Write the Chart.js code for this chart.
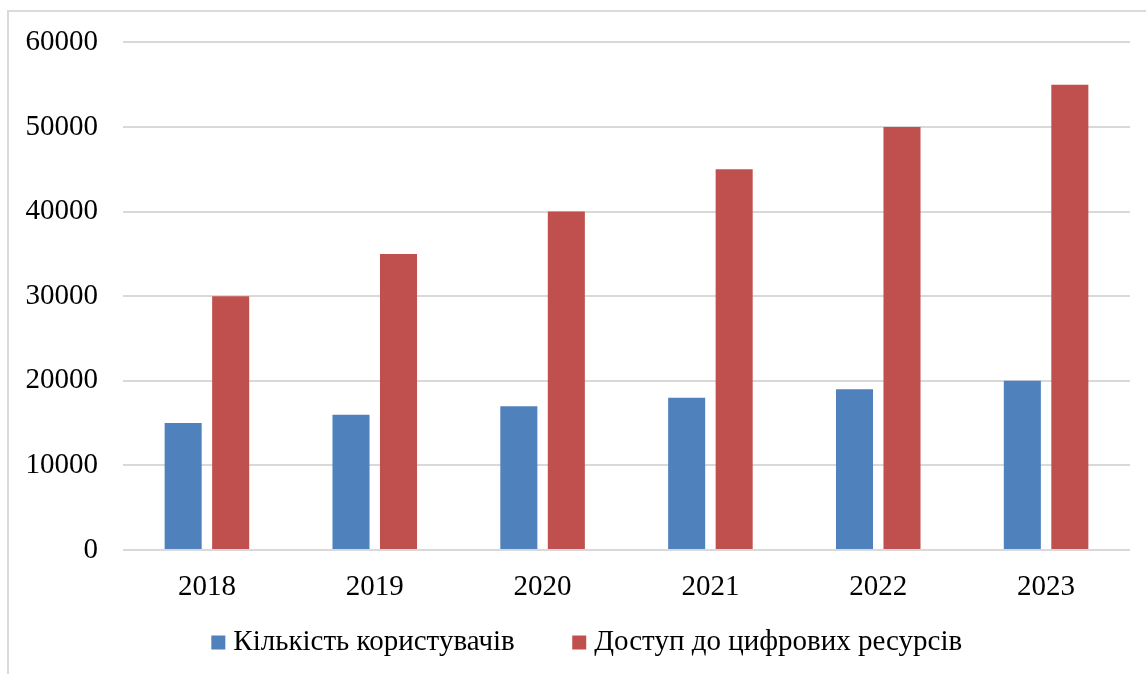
<!DOCTYPE html>
<html>
<head>
<meta charset="utf-8">
<script src="https://cdn.jsdelivr.net/npm/chart.js@4.4.1/dist/chart.umd.min.js"></script>
<style>
  body { margin: 0; background: #fff; }
  #wrap { position: relative; width: 1146px; height: 674px; overflow: hidden; }
  #frame { position: absolute; left: 7px; top: 10px; width: 1200px; height: 700px;
           border-left: 2px solid #dadada; border-top: 2px solid #dadada; }
  canvas { position: absolute; left: 0; top: 0; }
</style>
</head>
<body>
<div id="wrap">
  <div id="frame"></div>
  <canvas id="chart" width="1146" height="674"></canvas>
</div>
<script>
const years = ['2018', '2019', '2020', '2021', '2022', '2023'];
const users = [15000, 16000, 17000, 18000, 19000, 20000];
const access = [30000, 35000, 40000, 45000, 50000, 55000];
const yTicks = [0, 10000, 20000, 30000, 40000, 50000, 60000];

const serif = "'Liberation Serif', 'DejaVu Serif', serif";

// the legend needs wide gaps between items but little height,
// so move it after layout instead of letting padding push it down
const legendShift = {
    id: 'legendShift',
    afterUpdate(chart) {
        const lg = chart.legend;
        lg.left += 21;
        lg.right += 21;
        lg.top -= 46;
        lg.bottom -= 46;
    }
};

const chart = document.querySelector('#chart').getContext('2d');
new Chart(chart, {
    type: 'bar',
    data: {
        labels: years,
        datasets: [
            {
                label: 'Кількість користувачів',
                data: users,
                backgroundColor: '#4f81bd'
            },
            {
                label: 'Доступ до цифрових ресурсів',
                data: access,
                backgroundColor: '#c0504d'
            }
        ]
    },
    options: {
        responsive: false,
        animation: false,
        devicePixelRatio: 1,
        categoryPercentage: 0.566,
        barPercentage: 0.78,
        layout: {
            padding: { left: 8, right: 16, top: 40, bottom: -39 }
        },
        scales: {
            x: {
                afterFit(axis) { axis.height = 60; },
                grid: { display: false },
                border: { display: false },
                ticks: {
                    color: '#000',
                    padding: 12,
                    font: { family: serif, size: 29 }
                }
            },
            y: {
                min: 0,
                max: 60000,
                afterFit(axis) { axis.width = 115; },
                afterBuildTicks(axis) { axis.ticks = yTicks.map(v => ({ value: v })); },
                grid: { color: '#d9d9d9', lineWidth: 2, drawTicks: false },
                border: { display: false },
                ticks: {
                    color: '#000',
                    padding: 25,
                    font: { family: serif, size: 29 },
                    callback: v => String(v)
                }
            }
        },
        plugins: {
            legend: {
                position: 'bottom',
                labels: {
                    color: '#000',
                    usePointStyle: true,
                    pointStyle: 'rect',
                    boxWidth: 1,
                    boxHeight: 14,
                    padding: 64,
                    font: { family: serif, size: 29 }
                }
            },
            tooltip: { enabled: false }
        }
    },
    plugins: [legendShift]
});
</script>
</body>
</html>
